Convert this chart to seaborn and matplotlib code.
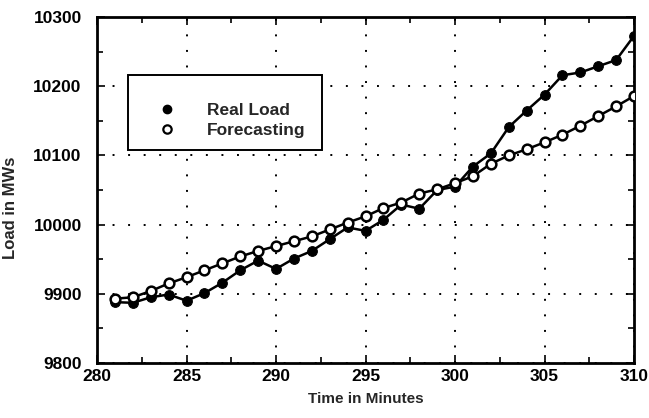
import matplotlib
matplotlib.use("Agg")
import matplotlib.pyplot as plt
from matplotlib.lines import Line2D
from matplotlib.patches import Rectangle
from matplotlib.ticker import MultipleLocator
import seaborn as sns
import pandas as pd

minutes = list(range(281, 311))
real_load = [9888, 9887, 9895, 9899, 9890, 9901, 9916, 9934, 9948, 9936,
             9951, 9962, 9979, 9996, 9991, 10007, 10029, 10023, 10050, 10055,
             10084, 10103, 10141, 10165, 10188, 10216, 10220, 10229, 10238, 10273]
forecast = [9893, 9895, 9904, 9915, 9924, 9934, 9944, 9954, 9962, 9969,
            9976, 9983, 9993, 10003, 10012, 10024, 10032, 10045, 10051, 10060,
            10070, 10088, 10100, 10109, 10119, 10130, 10143, 10157, 10171, 10186]
series_names = ["Real Load", "Forecasting"]
x_ticks = [280, 285, 290, 295, 300, 305, 310]
y_ticks = [9800, 9900, 10000, 10100, 10200, 10300]

sns.set_style("ticks")
plt.rcParams['font.family'] = ['Liberation Sans', 'DejaVu Sans']
plt.rcParams['font.weight'] = 'bold'

df = pd.DataFrame({"t": minutes, "real": real_load, "fc": forecast})

fig = plt.figure(figsize=(6.49, 4.18), dpi=100)
ax = fig.add_axes([0.1495, 0.1316, 0.8275, 0.8274])

sns.lineplot(data=df, x="t", y="real", ax=ax, color="black", lw=1.8,
             marker="o", markersize=7, markerfacecolor="black",
             markeredgecolor="black", zorder=3)
sns.lineplot(data=df, x="t", y="fc", ax=ax, color="black", lw=1.8,
             marker="o", markersize=7, markerfacecolor="white",
             markeredgecolor="black", markeredgewidth=1.8, zorder=4)

ax.set_xlim(280, 310)
ax.set_ylim(9800, 10300)
ax.set_xticks(x_ticks)
ax.set_yticks(y_ticks)
ax.set_xticklabels([str(v) for v in x_ticks])
ax.set_yticklabels([str(v) for v in y_ticks])
ax.xaxis.set_minor_locator(MultipleLocator(2.5))
ax.yaxis.set_minor_locator(MultipleLocator(50))
ax.tick_params(which="both", direction="in", top=True, right=True, width=1.2, colors="black")
ax.tick_params(which="major", length=6)
ax.tick_params(which="minor", length=4)
ax.tick_params(axis="x", which="major", pad=4, labelsize=12.5)
ax.tick_params(axis="y", which="major", pad=11, labelsize=12.5)
for lbl in ax.get_xticklabels() + ax.get_yticklabels():
    lbl.set_fontweight("bold")

for sp in ax.spines.values():
    sp.set_linewidth(2)
    sp.set_color("black")

ax.grid(True, which="major", color="black", linestyle=(0, (1, 7)), linewidth=1.4)

ax.set_xlabel("Time in Minutes", fontsize=11, fontweight="bold", labelpad=6)
ax.set_ylabel("Load in MWs", fontsize=12, fontweight="bold")
ax.yaxis.set_label_coords(-0.147, 0.448)

# legend frame
ax.add_patch(Rectangle((0.0577, 0.6156), 0.361, 0.2168, transform=ax.transAxes,
                       facecolor="white", edgecolor="black", linewidth=1.4, zorder=5))

handles = [
    Line2D([], [], linestyle="none", marker="o", markersize=6,
           markerfacecolor="black", markeredgecolor="black"),
    Line2D([], [], linestyle="none", marker="o", markersize=6,
           markerfacecolor="white", markeredgecolor="black", markeredgewidth=1.6),
]
leg = ax.legend(handles, series_names, loc="upper left",
                bbox_to_anchor=(0.106, 0.753),
                borderaxespad=0, frameon=False,
                prop={"size": 12.5, "weight": "bold"},
                borderpad=0, labelspacing=0.3, handlelength=1.5,
                handletextpad=1.55)
leg.set_zorder(6)

fig.savefig("out.png", dpi=100)
